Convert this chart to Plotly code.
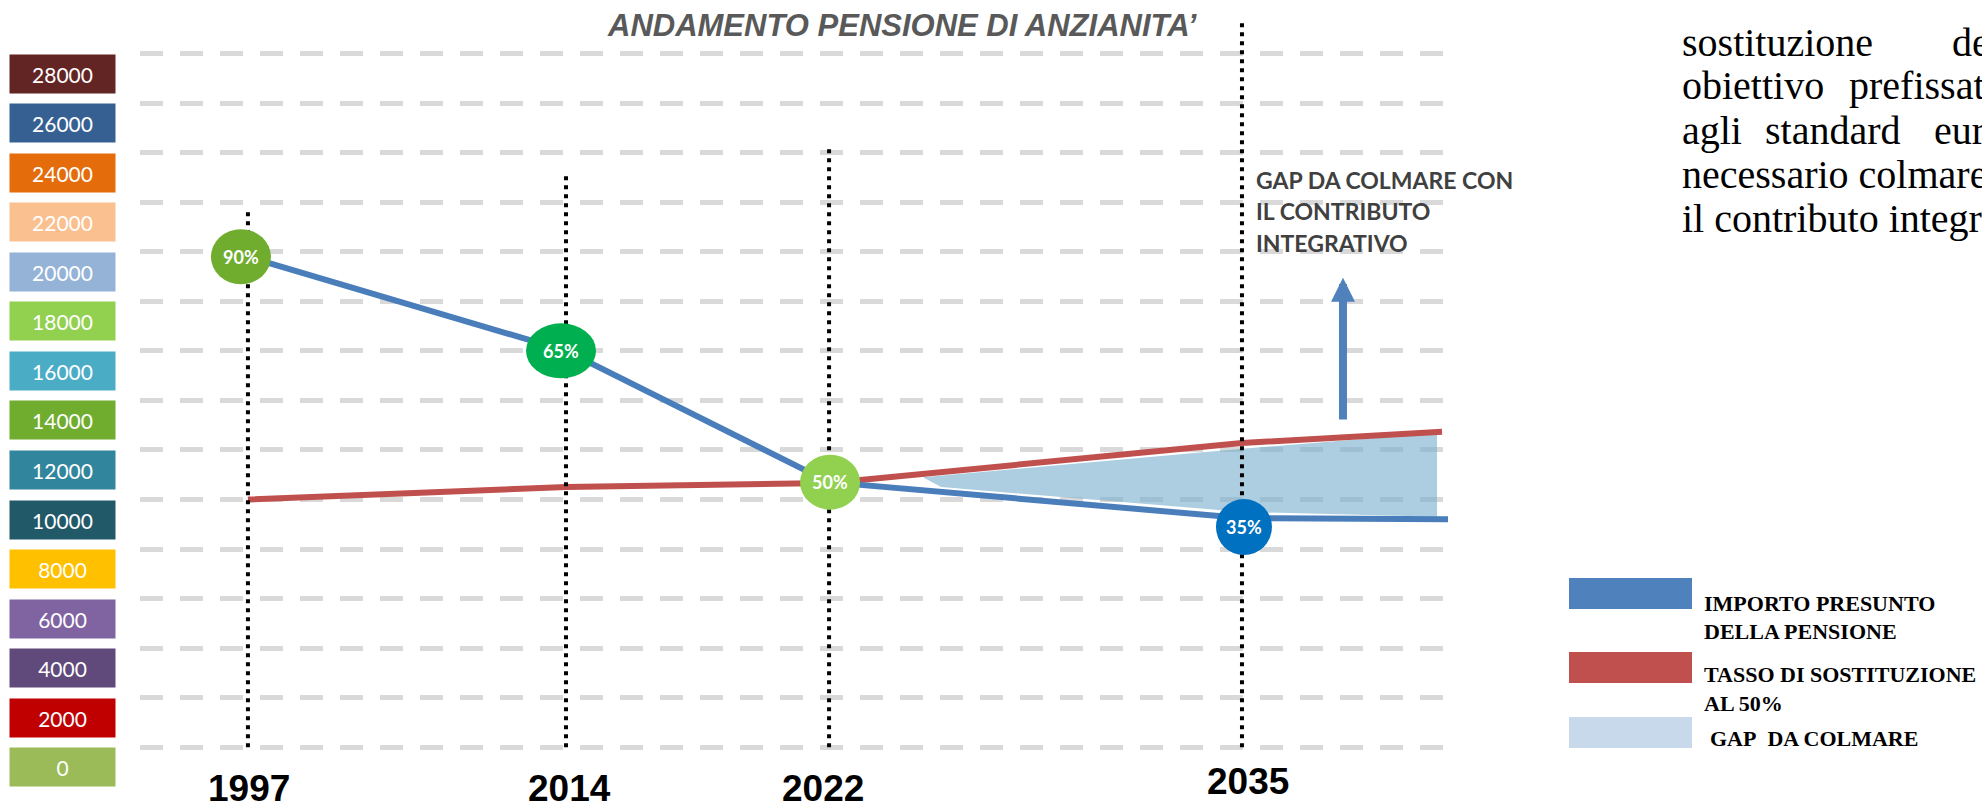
import plotly.graph_objects as go

# ---------------- data ----------------
years = ["1997", "2014", "2022", "2035"]
year_pos = [8.24, 32.52, 52.60, 84.12]          # timeline position of each year

pension_pos = [8.24, 32.52, 52.60, 84.12, 99.85]
pension_vals = [19800, 16000, 10700, 9250, 9200]          # importo presunto della pensione

replacement_pos = [8.24, 32.52, 52.60, 84.12, 99.39]
replacement_vals = [10000, 10500, 10670, 12280, 12730]    # tasso di sostituzione al 50%

gap_pos = [59.77, 84.12, 99.01, 99.01, 84.12, 61.15]
gap_vals = [10900, 12050, 12680, 9300, 9500, 10500]       # gap da colmare

bubble_labels = ["90%", "65%", "50%", "35%"]
bubble_vals = [19800, 16000, 10700, 9250]
bubble_colors = ["#70ad2f", "#00b050", "#92d050", "#0070c0"]

guide_tops = [21600, 23150, 24300, 29300]                # top of the dotted year lines

tick_vals = [28000, 26000, 24000, 22000, 20000, 18000, 16000, 14000,
             12000, 10000, 8000, 6000, 4000, 2000, 0]
tick_colors = ["#632523", "#376092", "#e46c0a", "#fac090", "#95b3d7",
               "#92d050", "#4bacc6", "#70ad2f", "#31859c", "#215968",
               "#ffc000", "#8064a2", "#604a7b", "#c00000", "#9bbb59"]

arrow_pos = 91.83
arrow_from = 13170
arrow_to = 18950

# ---------------- layout helpers ----------------
W, H = 1982, 810
ML, MR, MT, MB = 140, 532, 9, 38
PW = W - ML - MR
PH = H - MT - MB


def px_x(px):
    return (px - ML) / PW


def px_y(py):
    return (H - MB - py) / PH


BLUE = "#4a7ebb"
RED = "#c0504d"

fig = go.Figure()

# gap area
fig.add_trace(go.Scatter(
    x=gap_pos, y=gap_vals, fill="toself", mode="lines",
    line=dict(width=0), fillcolor="rgba(117,173,203,0.6)",
    hoverinfo="skip", showlegend=False))

# replacement rate line
fig.add_trace(go.Scatter(
    x=replacement_pos, y=replacement_vals, mode="lines",
    line=dict(color=RED, width=6), showlegend=False))

# pension line
fig.add_trace(go.Scatter(
    x=pension_pos, y=pension_vals, mode="lines",
    line=dict(color=BLUE, width=6), showlegend=False))

# dotted year guides
gx, gy = [], []
for p, t in zip(year_pos, guide_tops):
    gx += [p, p, None]
    gy += [0, t, None]
fig.add_trace(go.Scatter(
    x=gx, y=gy, mode="lines",
    line=dict(color="black", width=4, dash="4px,5px"), showlegend=False))

shapes = []
annotations = []

# bubbles
bubble_w = [60, 70, 60, 56]
bubble_h = [55, 55, 55, 56]
bubble_dx = [-7, -5, 1, 2]
bubble_dy = [0, 0, 0, -9]
for p, v, lab, col, bw, bh, dx, dy in zip(year_pos, bubble_vals, bubble_labels,
                                          bubble_colors, bubble_w, bubble_h,
                                          bubble_dx, bubble_dy):
    shapes.append(dict(
        type="circle", xref="x", yref="y", xsizemode="pixel", ysizemode="pixel",
        xanchor=p, yanchor=v, x0=-bw / 2 + dx, x1=bw / 2 + dx,
        y0=-bh / 2 + dy, y1=bh / 2 + dy,
        fillcolor=col, line=dict(width=0), layer="above"))
    annotations.append(dict(
        x=p, y=v, xref="x", yref="y", xshift=dx, yshift=dy, text="<b>%s</b>" % lab,
        showarrow=False, xanchor="center", yanchor="middle",
        font=dict(family="Lato, Open Sans", size=18, color="white")))

# coloured value boxes on the left
for v, col in zip(tick_vals, tick_colors):
    annotations.append(dict(
        x=px_x(62.5), xref="paper", y=v, yref="y", yshift=-20,
        xanchor="center", yanchor="middle",
        text=str(v), showarrow=False, bgcolor=col, width=105, height=38,
        borderpad=0, valign="middle",
        font=dict(family="Lato, Open Sans", size=21, color="white")))

# year labels
year_dx = [1, 3, -6, 6]
year_dy = [0, 0, 0, 7]
for p, y, dx, dy in zip(year_pos, years, year_dx, year_dy):
    annotations.append(dict(
        x=p, xref="x", y=px_y(788), yref="paper", xshift=dx, yshift=dy,
        xanchor="center", yanchor="middle", text="<b>%s</b>" % y, showarrow=False,
        font=dict(family="Liberation Sans Narrow, Arial Narrow, Liberation Sans",
                  size=37, color="black")))

# title
annotations.append(dict(
    x=px_x(902), y=px_y(25), xref="paper", yref="paper",
    xanchor="center", yanchor="middle",
    text="<b><i>ANDAMENTO PENSIONE DI ANZIANITA’</i></b>", showarrow=False,
    font=dict(family="Liberation Sans, Arial", size=31, color="#595959")))

# gap text
for txt, cy in zip(["GAP DA COLMARE CON", "IL CONTRIBUTO", "INTEGRATIVO"], [180, 211, 243]):
    annotations.append(dict(
        x=px_x(1254), y=px_y(cy), xref="paper", yref="paper", xanchor="left",
        yanchor="middle", text="<b>%s</b>" % txt, showarrow=False,
        font=dict(family="Lato, Open Sans", size=23, color="#404040")))

# arrow
annotations.append(dict(
    x=arrow_pos, y=arrow_to, ax=arrow_pos, ay=arrow_from,
    xref="x", yref="y", axref="x", ayref="y", text="", showarrow=True,
    arrowhead=2, arrowsize=0.6, arrowwidth=8, arrowcolor="#4f81bd"))

# paragraph on the right (cut off by the page edge, as in the source)
para_words = [
    ("sostituzione", 1680, 42), ("del", 1950, 42),
    ("obiettivo", 1680, 86), ("prefissato", 1847, 86),
    ("agli", 1680, 130), ("standard", 1763, 130), ("europei", 1932, 130),
    ("necessario colmare il gap con", 1680, 174),
    ("il contributo integrativo", 1680, 218),
]
for txt, x0, cy in para_words:
    annotations.append(dict(
        x=px_x(x0), y=px_y(cy), xref="paper", yref="paper", xanchor="left",
        yanchor="middle", text=txt, showarrow=False,
        font=dict(family="Liberation Serif, Times New Roman", size=40, color="black")))

# legend
legend_items = [("#4f81bd", 578, 609), (RED, 652, 683), ("#c9d9ec", 717, 748)]
for col, y0, y1 in legend_items:
    shapes.append(dict(type="rect", xref="paper", yref="paper",
                       x0=px_x(1569), x1=px_x(1692), y0=px_y(y1), y1=px_y(y0),
                       fillcolor=col, line=dict(width=0)))
legend_text = [("IMPORTO PRESUNTO", 1702, 603), ("DELLA PENSIONE", 1702, 631),
               ("TASSO DI SOSTITUZIONE", 1702, 674), ("AL 50%", 1702, 703),
               ("GAP  DA COLMARE", 1708, 738)]
for txt, x0, cy in legend_text:
    annotations.append(dict(
        x=px_x(x0), y=px_y(cy), xref="paper", yref="paper", xanchor="left",
        yanchor="middle", text="<b>%s</b>" % txt.replace("  ", "&nbsp; "), showarrow=False,
        font=dict(family="Liberation Serif, Times New Roman", size=22, color="black")))

fig.update_layout(
    width=W, height=H,
    margin=dict(l=ML, r=MR, t=MT, b=MB, pad=0),
    paper_bgcolor="white", plot_bgcolor="white",
    shapes=shapes, annotations=annotations, showlegend=False,
    xaxis=dict(range=[0, 100], tickvals=year_pos, ticktext=years,
               showticklabels=False,
               showgrid=False, zeroline=False, showline=False, ticks="",
               automargin=False),
    yaxis=dict(range=[-1000, 29800], tickvals=tick_vals, showticklabels=False,
               showgrid=True, gridcolor="#d9d9d9", gridwidth=5, griddash="23px,17px",
               zeroline=False, showline=False, ticks="", automargin=False),
)

fig.write_html("out.html", config={"displayModeBar": False},
               post_script="document.body.style.margin='0';")
